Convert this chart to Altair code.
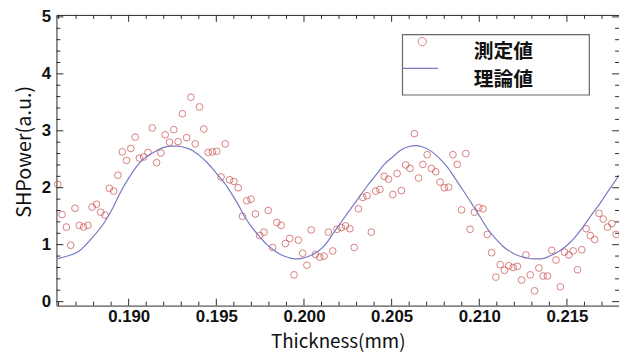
import altair as alt
import pandas as pd

# measured thickness (mm) and SH power (a.u.)
thickness = [
    0.185957, 0.186202, 0.186447, 0.186692, 0.186937, 0.187182, 0.187427, 0.187672, 0.187917, 0.188162,
    0.188407, 0.188652, 0.188897, 0.189142, 0.189387, 0.189632, 0.189877, 0.190122, 0.190367, 0.190612,
    0.190857, 0.191102, 0.191347, 0.191592, 0.191837, 0.192082, 0.192327, 0.192572, 0.192817, 0.193062,
    0.193307, 0.193552, 0.193797, 0.194042, 0.194287, 0.194532, 0.194777, 0.195022, 0.195267, 0.195512,
    0.195757, 0.196002, 0.196247, 0.196492, 0.196737, 0.196982, 0.197227, 0.197472, 0.197717, 0.197962,
    0.198207, 0.198452, 0.198697, 0.198942, 0.199187, 0.199432, 0.199677, 0.199922, 0.200167, 0.200412,
    0.200657, 0.200902, 0.201147, 0.201392, 0.201637, 0.201882, 0.202127, 0.202372, 0.202617, 0.202862,
    0.203107, 0.203352, 0.203597, 0.203842, 0.204087, 0.204332, 0.204577, 0.204822, 0.205067, 0.205312,
    0.205557, 0.205802, 0.206047, 0.206292, 0.206537, 0.206782, 0.207027, 0.207272, 0.207517, 0.207762,
    0.208007, 0.208252, 0.208497, 0.208742, 0.208987, 0.209232, 0.209477, 0.209722, 0.209967, 0.210212,
    0.210457, 0.210702, 0.210947, 0.211192, 0.211437, 0.211682, 0.211927, 0.212172, 0.212417, 0.212662,
    0.212907, 0.213152, 0.213397, 0.213642, 0.213887, 0.214132, 0.214377, 0.214622, 0.214867, 0.215112,
    0.215357, 0.215602, 0.215847, 0.216092, 0.216337, 0.216582, 0.216827, 0.217072, 0.217317, 0.217562,
    0.217807,
]
measured = [
    2.06, 1.53, 1.31, 0.99, 1.64, 1.34, 1.31, 1.34, 1.66, 1.71,
    1.57, 1.52, 1.99, 1.94, 2.22, 2.63, 2.48, 2.69, 2.89, 2.52,
    2.54, 2.62, 3.05, 2.44, 2.61, 2.93, 2.80, 3.02, 2.81, 3.30,
    2.88, 3.59, 2.77, 3.42, 3.03, 2.62, 2.63, 2.64, 2.19, 2.77,
    2.14, 2.11, 2.00, 1.50, 1.77, 1.80, 1.54, 1.16, 1.22, 1.60,
    0.95, 1.39, 1.34, 1.02, 1.11, 0.47, 1.08, 0.85, 0.64, 1.26,
    0.83, 0.78, 0.80, 1.22, 0.89, 1.27, 1.30, 1.33, 1.28, 0.95,
    1.63, 1.83, 1.86, 1.22, 1.94, 1.97, 2.20, 2.15, 1.88, 2.25,
    1.95, 2.40, 2.34, 2.95, 2.17, 2.41, 2.58, 2.34, 2.28, 2.10,
    2.00, 2.01, 2.58, 2.41, 1.61, 2.60, 1.27, 1.57, 1.65, 1.63,
    1.18, 0.86, 0.43, 0.65, 0.55, 0.63, 0.60, 0.62, 0.38, 0.82,
    0.47, 0.19, 0.59, 0.45, 0.45, 0.90, 0.73, 0.26, 0.87, 0.82,
    0.89, 0.56, 0.91, 1.28, 1.16, 1.09, 1.55, 1.45, 1.31, 1.37,
    1.18,
]

# theoretical curve
theory_x = [
    0.18594, 0.18650, 0.18718, 0.18786, 0.18859, 0.18910, 0.18955, 0.19000, 0.19045, 0.19090,
    0.19141, 0.19192, 0.19237, 0.19282, 0.19327, 0.19361, 0.19406, 0.19451, 0.19496, 0.19547,
    0.19586, 0.19620, 0.19660, 0.19699, 0.19744, 0.19789, 0.19835, 0.19885, 0.19930, 0.19959,
    0.19987, 0.20032, 0.20083, 0.20122, 0.20156, 0.20190, 0.20241, 0.20297, 0.20353, 0.20410,
    0.20455, 0.20506, 0.20551, 0.20596, 0.20635, 0.20675, 0.20731, 0.20771, 0.20816, 0.20861,
    0.20906, 0.20957, 0.21002, 0.21047, 0.21098, 0.21143, 0.21188, 0.21228, 0.21267, 0.21312,
    0.21352, 0.21402, 0.21453, 0.21498, 0.21549, 0.21594, 0.21639, 0.21690, 0.21735, 0.21780,
    0.21797,
]
theory_y = [
    0.75, 0.80, 0.89, 1.10, 1.38, 1.65, 1.93, 2.17, 2.37, 2.52,
    2.62, 2.70, 2.73, 2.73, 2.70, 2.66, 2.56, 2.43, 2.27, 2.08,
    1.90, 1.73, 1.50, 1.32, 1.15, 1.00, 0.89, 0.80, 0.76, 0.75,
    0.76, 0.80, 0.89, 1.00, 1.15, 1.30, 1.52, 1.76, 2.00, 2.22,
    2.40, 2.54, 2.66, 2.72, 2.74, 2.72, 2.63, 2.52, 2.37, 2.17,
    1.96, 1.72, 1.50, 1.28, 1.09, 0.95, 0.86, 0.80, 0.77, 0.75,
    0.75, 0.80, 0.88, 0.98, 1.14, 1.32, 1.52, 1.73, 1.94, 2.14,
    2.22,
]

x_major = [0.190, 0.195, 0.200, 0.205, 0.210, 0.215]
x_minor = [0.186, 0.187, 0.188, 0.189, 0.191, 0.192, 0.193, 0.194, 0.196, 0.197,
           0.198, 0.199, 0.201, 0.202, 0.203, 0.204, 0.206, 0.207, 0.208, 0.209,
           0.211, 0.212, 0.213, 0.214, 0.216, 0.217]
y_major = [0, 1, 2, 3, 4, 5]
y_minor = [0.2, 0.4, 0.6, 0.8, 1.2, 1.4, 1.6, 1.8, 2.2, 2.4, 2.6, 2.8,
           3.2, 3.4, 3.6, 3.8, 4.2, 4.4, 4.6, 4.8]

legend_labels = ["測定値", "理論値"]

W, H = 569, 294
RED = "#c94a46"
BLUE = "#7878c4"
FRAME = "#2a2a2a"

xs = alt.Scale(domain=[0.18588, 0.21797], nice=False, zero=False)
ys = alt.Scale(domain=[-0.07, 5.035], nice=False, zero=False)

xaxis = alt.Axis(
    values=x_major, format=".3f", grid=False, ticks=False, domain=False,
    labelFont="Liberation Sans", labelFontWeight="bold", labelFontSize=17,
    labelColor="#111", labelPadding=3,
    title="Thickness(mm)", titleFont="Noto Sans CJK JP", titleFontWeight="normal",
    titleFontSize=19, titleColor="#111", titlePadding=8)
yaxis = alt.Axis(
    values=y_major, format="d", grid=False, ticks=False, domain=False,
    labelFont="Liberation Sans", labelFontWeight="bold", labelFontSize=17,
    labelColor="#111", labelPadding=6,
    title="SHPower(a.u.)", titleFont="Noto Sans CJK JP", titleFontWeight="normal",
    titleFontSize=20, titleColor="#111", titlePadding=7, titleY=138)

X = lambda: alt.X("t:Q", scale=xs, axis=xaxis)
Y = lambda: alt.Y("p:Q", scale=ys, axis=yaxis)

meas_df = pd.DataFrame({"t": thickness, "p": measured})
theo_df = pd.DataFrame({"t": theory_x, "p": theory_y})

points = alt.Chart(meas_df).mark_point(
    shape="circle", filled=False, color=RED, size=46, strokeWidth=1
).encode(x=X(), y=Y())

line = alt.Chart(theo_df).mark_line(color=BLUE, strokeWidth=1.2, interpolate="monotone").encode(
    x=X(), y=Y())

def xticks(vals, length):
    df = pd.DataFrame({"t": vals})
    base = alt.Chart(df).mark_rule(color=FRAME, strokeWidth=1)
    bottom = base.encode(x=X(), y=alt.value(H), y2=alt.value(H - length))
    top = base.encode(x=X(), y=alt.value(0), y2=alt.value(length))
    return [bottom, top]

def yticks(vals, length):
    df = pd.DataFrame({"p": vals})
    base = alt.Chart(df).mark_rule(color=FRAME, strokeWidth=1)
    left = base.encode(y=Y(), x=alt.value(0), x2=alt.value(length))
    right = base.encode(y=Y(), x=alt.value(W), x2=alt.value(W - length))
    return [left, right]

tick_layers = xticks(x_major, 7) + xticks(x_minor, 4) + yticks(y_major, 7) + yticks(y_minor, 4)

one = pd.DataFrame({"a": [0]})
leg_box = alt.Chart(one).mark_rect(fill="white", stroke="#666", strokeWidth=1.2).encode(
    x=alt.value(350), x2=alt.value(539), y=alt.value(20), y2=alt.value(81))
leg_pt = alt.Chart(one).mark_point(shape="circle", filled=False, color=RED, size=70, strokeWidth=1).encode(
    x=alt.value(370), y=alt.value(27))
leg_line = alt.Chart(one).mark_rule(color=BLUE, strokeWidth=1.2).encode(
    x=alt.value(350), x2=alt.value(386), y=alt.value(54))
leg_text1 = alt.Chart(one).mark_text(
    font="Noto Sans CJK JP", fontWeight="bold", fontSize=20, color="#111",
    align="center", baseline="middle", text=legend_labels[0]
).encode(x=alt.value(452), y=alt.value(38))
leg_text2 = alt.Chart(one).mark_text(
    font="Noto Sans CJK JP", fontWeight="bold", fontSize=20, color="#111",
    align="center", baseline="middle", text=legend_labels[1]
).encode(x=alt.value(452), y=alt.value(66))

chart = alt.layer(
    points, line, *tick_layers, leg_box, leg_pt, leg_line, leg_text1, leg_text2
).properties(
    width=W, height=H,
    autosize=alt.AutoSizeParams(type="none"),
    padding={"left": 49, "top": 5, "right": 0, "bottom": 52},
    background="white",
).configure_view(stroke=FRAME, strokeWidth=1)

chart.save("out.html", embed_options={"renderer": "svg", "actions": False})
